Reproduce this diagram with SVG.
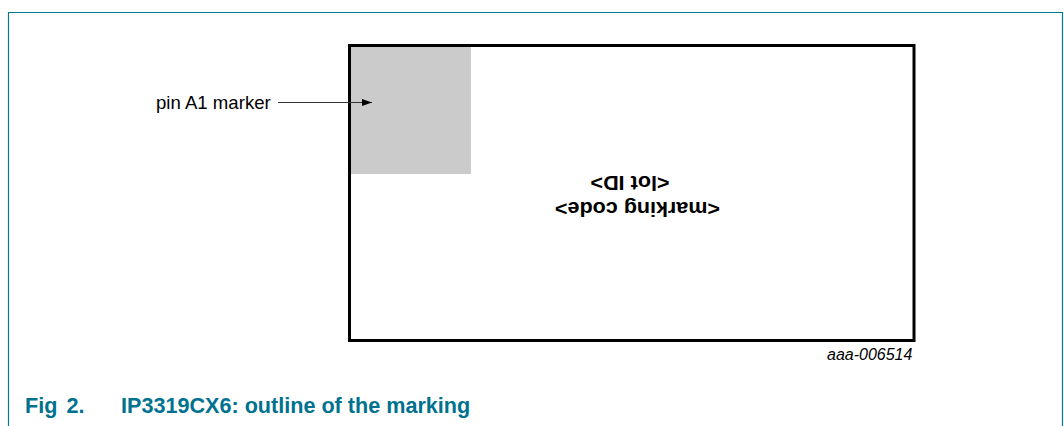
<svg xmlns="http://www.w3.org/2000/svg" width="1064" height="426" viewBox="0 0 1064 426">
<style>
text{font-family:"Liberation Sans",Arial,sans-serif;fill:#000}
.lbl{font-size:18.600px}
.mk{font-size:19.400px;font-weight:bold;text-anchor:middle}
.cap{font-size:21.600px;font-weight:bold;fill:#00728f}
</style>
<defs><marker id="ah" markerUnits="userSpaceOnUse" markerWidth="10" markerHeight="7" refX="10" refY="3.500" orient="auto"><path d="M0 0L10 3.500L0 7Z" fill="#000"/></marker></defs>
<rect width="1064" height="426" fill="#fff"/>
<path id="frame" d="M8.500 426V12.500H1062.500V426" fill="none" stroke="#00788f" stroke-width="1.200"/>
<g id="package">
<rect x="350" y="46" width="121" height="128" fill="#cbcbcb"/>
<rect x="349.500" y="45.500" width="564.500" height="295" fill="none" stroke="#000" stroke-width="3"/>
<text class="mk" transform="translate(630 176) rotate(180) scale(1.110 1)">&lt;lot ID&gt;</text>
<text class="mk" transform="translate(637.500 201.500) rotate(180) scale(1.110 1)">&lt;marking code&gt;</text>
</g>
<g id="connectors"><line x1="278" y1="102.500" x2="372" y2="102.500" stroke="#333" stroke-width="1.100" marker-end="url(#ah)"/></g>
<g id="label"><text class="lbl" x="156" y="108.500">pin A1 marker</text></g>
<text x="827" y="360" font-size="16" font-style="italic">aaa-006514</text>
<text class="cap" x="25" y="413" word-spacing="3">Fig 2.</text>
<text class="cap" x="121" y="413">IP3319CX6: outline of the marking</text>
</svg>
